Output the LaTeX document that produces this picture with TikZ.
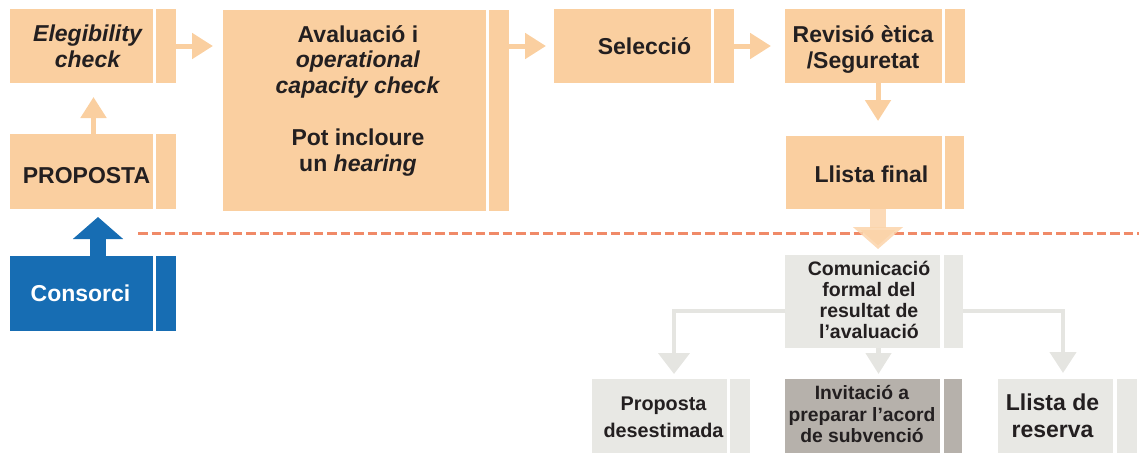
\documentclass[tikz,border=0pt]{standalone}
\usepackage{fontspec}
\setmainfont{Liberation Sans}
\usetikzlibrary{arrows.meta}

\definecolor{peach}{RGB}{250,207,160}
\definecolor{peachlight}{RGB}{251,212,170}
\definecolor{consblue}{RGB}{23,109,179}
\definecolor{cutcol}{RGB}{240,138,104}
\definecolor{paleg}{RGB}{232,232,228}
\definecolor{linkg}{RGB}{229,229,225}
\definecolor{darkg}{RGB}{182,177,171}
\definecolor{ink}{RGB}{35,31,32}

\tikzset{
  box/.style={fill=#1, draw=none, anchor=north west, inner sep=0pt, outer sep=0pt},
  big/.style={font=\bfseries\fontsize{23}{26}\selectfont, text=ink, align=center, inner sep=0pt},
  small/.style={font=\bfseries\fontsize{19.5}{21}\selectfont, text=ink, align=center, inner sep=0pt},
  thinarrow/.style={draw=peach, line width=5pt, -{Triangle[width=25pt,length=21pt]}},
  widearrow/.style={draw=#1, line width=16pt, -{Triangle[width=49pt,length=22pt]}},
  grayarrow/.style={draw=linkg, line width=4.5pt, line join=miter,
    -{Triangle[width=#1,length=21pt]}},
  cutline/.style={draw=cutcol, line width=3pt, dash pattern=on 9.5pt off 4pt},
}

\begin{document}
\begin{tikzpicture}[x=1pt, y=-1pt]
\useasboundingbox (0,0) rectangle (1139,453);

% --- upper row: peach process boxes with their side tabs ---
\node[box=peach, minimum width=143pt, minimum height=74pt] (elig) at (10,9) {};
\node[box=peach, minimum width=20pt, minimum height=74pt] (elig-tab) at (156,9) {};
\node[box=peach, minimum width=143pt, minimum height=75pt] (prop) at (10,134) {};
\node[box=peach, minimum width=20pt, minimum height=75pt] (prop-tab) at (156,134) {};
\node[box=peach, minimum width=263pt, minimum height=201pt] (aval) at (223,10) {};
\node[box=peach, minimum width=20pt, minimum height=201pt] (aval-tab) at (489,10) {};
\node[box=peach, minimum width=157pt, minimum height=74pt] (sel) at (554,9) {};
\node[box=peach, minimum width=20pt, minimum height=74pt] (sel-tab) at (714,9) {};
\node[box=peach, minimum width=157pt, minimum height=74pt] (rev) at (785,9) {};
\node[box=peach, minimum width=20pt, minimum height=74pt] (rev-tab) at (945,9) {};
\node[box=peach, minimum width=156pt, minimum height=73pt] (llf) at (786,136) {};
\node[box=peach, minimum width=19pt, minimum height=73pt] (llf-tab) at (945,136) {};

% --- consortium box ---
\node[box=consblue, minimum width=143pt, minimum height=75pt] (cons) at (10,256) {};
\node[box=consblue, minimum width=20pt, minimum height=75pt] (cons-tab) at (156,256) {};

% --- outcome boxes ---
\node[box=paleg, minimum width=155pt, minimum height=93pt] (com) at (785,255) {};
\node[box=paleg, minimum width=19pt, minimum height=93pt] (com-tab) at (944,255) {};
\node[box=paleg, minimum width=135pt, minimum height=74pt] (des) at (592,379) {};
\node[box=paleg, minimum width=20pt, minimum height=74pt] (des-tab) at (730,379) {};
\node[box=darkg, minimum width=155pt, minimum height=74pt] (inv) at (785,379) {};
\node[box=darkg, minimum width=18pt, minimum height=74pt] (inv-tab) at (944,379) {};
\node[box=paleg, minimum width=115pt, minimum height=74pt] (res) at (998,379) {};
\node[box=paleg, minimum width=20pt, minimum height=74pt] (res-tab) at (1117,379) {};

% --- labels ---
\node[big] (elig-t) at (87.5,46.6) {\itshape Elegibility\\\itshape check};
\node[big] (prop-t) at (86.5,175.1) {PROPOSTA};
\node[big, text=white] (cons-t) at (80.5,293.6) {Consorci};
\node[big, font=\bfseries\fontsize{23}{25.8}\selectfont] (aval-t) at (358,100.5)
  {Avaluació i\\\textit{operational}\\\textit{capacity check}\\[25.8pt]Pot incloure\\un \textit{hearing}};
\node[big] (sel-t) at (644.5,46.6) {Selecció};
\node[big] (rev-t) at (863,49.5) {Revisió ètica\\/Seguretat};
\node[big] (llf-t) at (871.5,174.3) {Llista final};
\node[small] (com-t) at (869,299.8) {Comunicació\\formal del\\resultat de\\l’avaluació};
\node[small, font=\bfseries\fontsize{19.8}{27}\selectfont] (des-t) at (663.5,416.9) {Proposta\\desestimada};
\node[small, font=\bfseries\fontsize{19.3}{21.3}\selectfont] (inv-t) at (862,414.3) {Invitació a\\preparar l’acord\\de subvenció};
\node[big, font=\bfseries\fontsize{23}{26.6}\selectfont] (res-t) at (1052.5,415.6) {Llista de\\reserva};

% --- flow arrows ---
\draw[thinarrow, shorten >=10pt] (elig-tab.east) -- (aval.west |- elig-tab.east);
\draw[thinarrow, shorten >=8pt] (aval-tab.east |- sel.west) -- (sel.west);
\draw[thinarrow, shorten >=14pt] (sel-tab.east) -- (rev.west);
\draw[thinarrow, shorten >=15pt] ([xshift=14.5pt]rev.south) -- ([xshift=14.5pt]rev.south |- llf.north);
\draw[thinarrow, shorten >=14pt] ([xshift=12pt]prop.north) -- ([xshift=12pt]prop.north |- elig.south);
\draw[widearrow=consblue, shorten >=8pt] ([xshift=16.5pt]cons.north) -- ([xshift=16.5pt]cons.north |- prop.south);

% --- dashed separator ---
\coordinate (cut-l) at (138,233);
\coordinate (cut-r) at (1139,233);
\draw[cutline] (cut-l) -- (cut-r);

\draw[widearrow=peachlight, draw opacity=0.85, shorten >=6pt] ([xshift=14pt]llf.south) -- ([xshift=14pt]llf.south |- com.north);

% --- outcome branches ---
\draw[grayarrow=31pt, shorten >=5pt] ([yshift=-9.5pt]com.west) -| ([xshift=14.5pt]des.north);
\draw[grayarrow=25pt, shorten >=5pt] ([xshift=16pt]com.south) -- ([xshift=16pt]com.south |- inv.north);
\draw[grayarrow=26pt, shorten >=6pt] ([yshift=-9.5pt]com-tab.east) -| ([xshift=7.5pt]res.north);
\end{tikzpicture}
\end{document}
